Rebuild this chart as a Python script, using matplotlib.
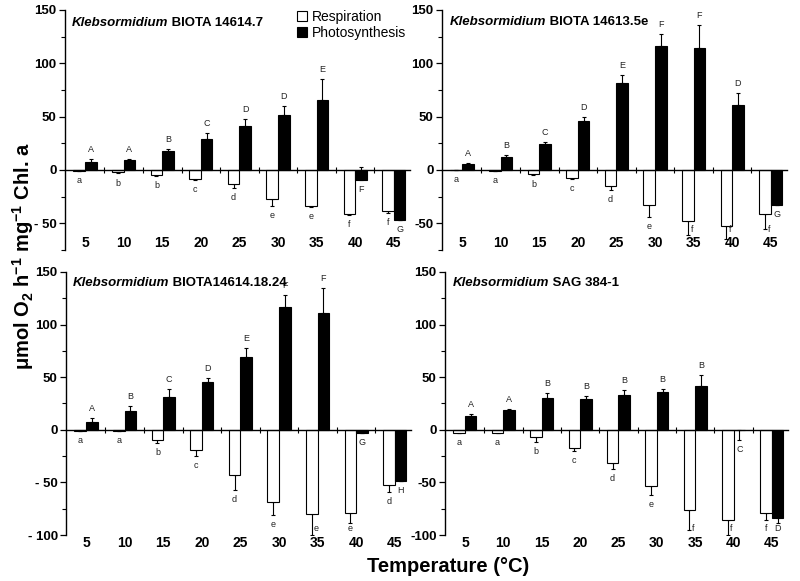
import matplotlib
matplotlib.use('Agg')
import matplotlib.pyplot as plt
from matplotlib.patches import Patch
import numpy as np

plt.rcParams['font.family'] = ['Liberation Sans', 'DejaVu Sans']

# ---------------- data ----------------
temps = ['5', '10', '15', '20', '25', '30', '35', '40', '45']

titles_species = ['Klebsormidium', 'Klebsormidium', 'Klebsormidium', 'Klebsormidium']
titles_strain = [' BIOTA 14614.7', ' BIOTA 14613.5e', ' BIOTA14614.18.24', ' SAG 384-1']

# signed error: error bar runs from value to value + err
p1_resp = [-0.5, -2.2, -5, -8, -13.5, -27.5, -33.5, -41, -38.5]
p1_resp_err = [-0.5, -1, -1, -1, -3, -6, -1.5, -1, -2]
p1_photo = [7.5, 9, 18, 29, 41, 51.5, 66, -9.5, -47]
p1_photo_err = [2.5, 1.5, 2, 5.5, 7, 8.5, 19, 12.5, 0]
p1_resp_let = ['a', 'b', 'b', 'c', 'd', 'e', 'e', 'f', 'f']
p1_photo_let = ['A', 'A', 'B', 'C', 'D', 'D', 'E', 'F', 'G']

p2_resp = [-0.3, -0.5, -3.8, -7.8, -15, -33, -47.5, -52.5, -41.5]
p2_resp_err = [0, 0, -0.8, -0.8, -3.8, -11, -13.5, -11.8, -14]
p2_photo = [5.3, 12.5, 24.5, 45.5, 81.5, 116, 114, 60.5, -33]
p2_photo_err = [1.5, 1.5, 2, 4.5, 7.5, 11.5, 21.5, 11.5, 0]
p2_resp_let = ['a', 'a', 'b', 'c', 'd', 'e', 'f', 'f', 'f']
p2_photo_let = ['A', 'B', 'C', 'D', 'E', 'F', 'F', 'D', 'G']

p3_resp = [-1.5, -1, -9.5, -19, -42.5, -68.5, -80.5, -79.5, -52]
p3_resp_err = [0, 0, -3.2, -6, -15, -12.5, -19.5, -9.5, -7]
p3_photo = [7.5, 17.5, 31, 45, 69, 116.5, 111.5, -3, -48.5]
p3_photo_err = [3.5, 5.5, 7.5, 4.5, 9, 11.5, 23.5, 0, 0]
p3_resp_let = ['a', 'a', 'b', 'c', 'd', 'e', 'e', 'e', 'd']
p3_photo_let = ['A', 'B', 'C', 'D', 'E', 'F', 'F', 'G', 'H']

p4_resp = [-3, -3, -7, -17, -31.5, -53, -76.5, -85.5, -79]
p4_resp_err = [-0.5, -0.5, -4.7, -3, -5.4, -8.6, -19, -14.5, -7]
p4_photo = [13.5, 18.5, 30, 29, 33, 35.5, 41.5, 0, -83.5]
p4_photo_err = [1.6, 1.6, 4.8, 3.3, 5, 3, 11, -10, -5.5]
p4_resp_let = ['a', 'a', 'b', 'c', 'd', 'e', 'f', 'f', 'f']
p4_photo_let = ['A', 'A', 'B', 'B', 'B', 'B', 'B', 'C', 'D']

legend_labels = ['Respiration', 'Photosynthesis']

# ---------------- layout ----------------
W, H = 800, 581
fig = plt.figure(figsize=(W / 100, H / 100), dpi=100)

boxes = [(65, 10, 410, 250), (442, 10, 787, 250), (66, 272, 411, 535), (445, 272, 788, 535)]
ylims = [(-75, 150), (-75, 150), (-100, 150), (-100, 150)]
floors = [-56, -56, -94, -94]
xlab_frac = [0.03, 0.03, -0.03, -0.03]
left_side = [True, False, True, False]
title_pos = [(0.02, 0.945), (0.023, 0.952), (0.02, 0.958), (0.023, 0.958)]

data = [
    (p1_resp, p1_resp_err, p1_photo, p1_photo_err, p1_resp_let, p1_photo_let),
    (p2_resp, p2_resp_err, p2_photo, p2_photo_err, p2_resp_let, p2_photo_let),
    (p3_resp, p3_resp_err, p3_photo, p3_photo_err, p3_resp_let, p3_photo_let),
    (p4_resp, p4_resp_err, p4_photo, p4_photo_err, p4_resp_let, p4_photo_let),
]

bw = 0.3
gap = 9
x = np.arange(len(temps))


def place_letters(ax, xs, vals, errs, lets, floor):
    for xi, v, e, l in zip(xs, vals, errs, lets):
        end = v + e
        if v >= 0 and e >= 0:
            ax.text(xi, end + gap, l, ha='center', va='center', fontsize=6.5, color='#222222')
        else:
            low = min(v, end)
            y = low - gap
            dx = 0
            if y < floor:
                y = floor
                if low < floor + 4:
                    dx = 0.1
            ax.text(xi + dx, y, l, ha='center', va='center', fontsize=6.5, color='#222222')


for k in range(4):
    l, t, r, b = boxes[k]
    ax = fig.add_axes([l / W, 1 - b / H, (r - l) / W, (b - t) / H])
    resp, resp_err, photo, photo_err, rl, pl = data[k]
    resp = np.array(resp); photo = np.array(photo)
    resp_err = np.array(resp_err); photo_err = np.array(photo_err)

    xr = x - bw / 2
    xp = x + bw / 2
    ax.bar(xr, resp, width=bw, color='white', edgecolor='black', linewidth=0.8, zorder=2)
    ax.bar(xp, photo, width=bw, color='black', edgecolor='black', linewidth=0.8, zorder=2)
    for xs, v, e in ((xr, resp, resp_err), (xp, photo, photo_err)):
        lower = np.where(e < 0, -e, 0)
        upper = np.where(e > 0, e, 0)
        ax.errorbar(xs, v, yerr=[lower, upper], fmt='none', ecolor='black',
                    elinewidth=0.8, capsize=1.5, capthick=0.8, zorder=1)

    place_letters(ax, xr, resp, resp_err, rl, floors[k])
    place_letters(ax, xp, photo, photo_err, pl, floors[k])

    ax.set_xlim(-0.52, 8.42)
    ax.set_ylim(*ylims[k])
    for s in ('top', 'right'):
        ax.spines[s].set_visible(False)
    ax.spines['bottom'].set_position(('data', 0))
    ax.spines['left'].set_linewidth(1.0)
    ax.spines['bottom'].set_linewidth(1.0)
    ax.patch.set_visible(False)

    ax.set_xticks([])
    ax.set_xticks(x[:-1] + 0.5, minor=True)
    ax.tick_params(axis='x', which='minor', direction='inout', length=4, width=0.8)

    lo, hi = ylims[k]
    yt = np.arange(lo if lo % 50 == 0 else lo + 25, hi + 1, 50)
    if left_side[k]:
        ylabels = [('- %d' % -v) if v < 0 else '%d' % v for v in yt]
    else:
        ylabels = ['%d' % v for v in yt]
    ax.set_yticks(yt, ylabels, fontweight='bold', fontsize=9.5)
    ax.set_yticks(np.arange(lo + (25 if lo % 50 == 0 else 0), hi, 50), minor=True)
    ax.tick_params(axis='y', which='major', direction='out', length=4, width=0.9, pad=2)
    ax.tick_params(axis='y', which='minor', direction='out', length=3, width=0.8)

    for i, tl in enumerate(temps):
        ax.text(i, xlab_frac[k], tl, transform=ax.get_xaxis_transform(),
                ha='center', va='center', fontsize=10, fontweight='bold')

    tx, ty = title_pos[k]
    t1 = ax.text(tx, ty, titles_species[k], transform=ax.transAxes, ha='left', va='center',
                 fontsize=9.5, fontweight='bold', fontstyle='italic')
    ax.annotate(titles_strain[k], xy=(1, 0), xycoords=t1, ha='left', va='bottom',
                fontsize=9.5, fontweight='bold')

    if k == 0:
        handles = [Patch(facecolor='white', edgecolor='black', linewidth=0.8),
                   Patch(facecolor='black', edgecolor='black', linewidth=0.8)]
        fig.legend(handles, legend_labels, loc='upper left',
                   bbox_to_anchor=(297 / W, 1 - 10 / H), bbox_transform=fig.transFigure,
                   frameon=False, fontsize=10, handlelength=0.7, handleheight=0.7,
                   handletextpad=0.35, labelspacing=0.15, borderpad=0, borderaxespad=0)

fig.text(23 / W, 1 - 256 / H,
         r'μmol O$_\mathregular{2}$ h$^\mathregular{-1}$ mg$^\mathregular{-1}$ Chl. a',
         rotation=90, ha='center', va='center', fontsize=14.5, fontweight='bold')
fig.text(448 / W, 1 - 567 / H, 'Temperature (°C)', ha='center', va='center',
         fontsize=14.5, fontweight='bold')

fig.savefig('out.png', dpi=100)
